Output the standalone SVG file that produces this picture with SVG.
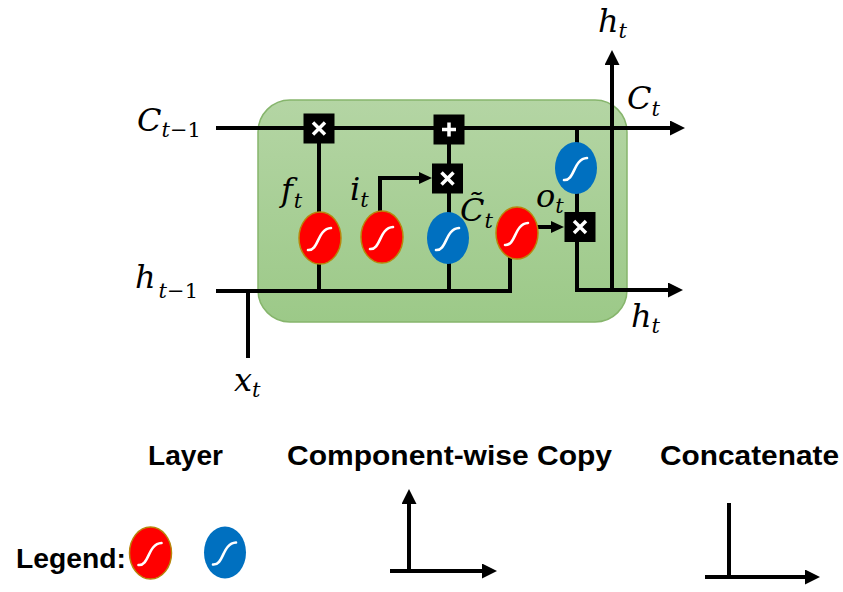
<svg xmlns="http://www.w3.org/2000/svg" xmlns:xlink="http://www.w3.org/1999/xlink" width="843" height="592" viewBox="0 0 843 592">
<style>
.ln{fill:none;stroke:#000;stroke-width:4;stroke-linejoin:miter}
.box{fill:#000}
.op{stroke:#fff;stroke-width:3.5;stroke-linecap:butt}
.m{font-family:"DejaVu Serif","Liberation Serif",serif;font-style:italic;font-size:32px;fill:#000}
.s{font-size:21px}
.u{font-style:normal}
.lg{font-family:"Liberation Sans",Arial,sans-serif;font-weight:bold;font-size:27px;fill:#000}
</style>
<defs>
<linearGradient id="gr" x1="0" y1="0" x2="0" y2="1">
<stop offset="0" stop-color="#b4d5a4"/>
<stop offset="1" stop-color="#9cc988"/>
</linearGradient>
<marker id="ah" viewBox="0 0 15 15" markerWidth="15" markerHeight="15" markerUnits="userSpaceOnUse" refX="1" refY="7.5" orient="auto">
<path d="M0,0 L15,7.5 L0,15 Z" fill="#000"/>
</marker>
<marker id="as" viewBox="0 0 13 12" markerWidth="13" markerHeight="12" markerUnits="userSpaceOnUse" refX="1" refY="6" orient="auto">
<path d="M0,0 L13,6 L0,12 Z" fill="#000"/>
</marker>
<g id="sigR">
<ellipse cx="0" cy="0" rx="21" ry="26" fill="#ff0000" stroke="#b8860b" stroke-width="1.5"/>
<path d="M-12,12 C-1,13 -3,-9 11,-10" fill="none" stroke="#fff" stroke-width="2.6" stroke-linecap="round"/>
</g>
<g id="sigB">
<ellipse cx="0" cy="0" rx="21" ry="26" fill="#0070c0"/>
<path d="M-12,12 C-1,13 -3,-9 11,-10" fill="none" stroke="#fff" stroke-width="2.6" stroke-linecap="round"/>
</g>
<g id="mul">
<rect x="-15.5" y="-15" width="31" height="30" class="box"/>
<path d="M-6,-6 L6,6 M6,-6 L-6,6" class="op"/>
</g>
<g id="add">
<rect x="-15.5" y="-15" width="31" height="30" class="box"/>
<path d="M-7,0 H7 M0,-7 V7" class="op" stroke-width="3"/>
</g>
</defs>

<g id="cell">
<rect x="258" y="100" width="369" height="222" rx="32" ry="32" fill="url(#gr)" stroke="#86b56c" stroke-width="1.5"/>
</g>

<g id="connectors">
<line x1="216" y1="128" x2="671" y2="128" class="ln" marker-end="url(#ah)"/>
<path d="M216,291 H510 V255" class="ln"/>
<line x1="248" y1="291" x2="248" y2="358" class="ln"/>
<line x1="319" y1="140" x2="319" y2="291" class="ln"/>
<line x1="449" y1="140" x2="449" y2="291" class="ln"/>
<path d="M380,215 V178 H420" class="ln" marker-end="url(#as)"/>
<line x1="535" y1="227" x2="552" y2="227" class="ln" marker-end="url(#as)"/>
<path d="M577,128 V290 H669" class="ln" marker-end="url(#ah)"/>
<line x1="612" y1="292" x2="612" y2="64" class="ln" marker-end="url(#ah)"/>
</g>

<g id="mult_forget"><use href="#mul" x="319" y="128.5"/></g>
<g id="add_cell"><use href="#add" x="449" y="129.5"/></g>
<g id="mult_input"><use href="#mul" x="447.5" y="178.5"/></g>
<g id="mult_output"><use href="#mul" x="580" y="227"/></g>

<g id="sigma_f"><use href="#sigR" x="320" y="238"/></g>
<g id="sigma_i"><use href="#sigR" x="382" y="237"/></g>
<g id="tanh_c"><use href="#sigB" x="448" y="238"/></g>
<g id="sigma_o"><use href="#sigR" x="517" y="233"/></g>
<g id="tanh_h"><use href="#sigB" x="576" y="168"/></g>

<g id="labels">
<text class="m" x="137" y="131">C<tspan class="s" dy="6">t<tspan class="u">−1</tspan></tspan></text>
<text class="m" x="135" y="288">h<tspan class="s" dx="3" dy="10">t<tspan class="u">−1</tspan></tspan></text>
<text class="m" x="234" y="391">x<tspan class="s" dy="6">t</tspan></text>
<text class="m" x="281" y="201">f<tspan class="s" dx="1" dy="7">t</tspan></text>
<text class="m" x="350" y="200">i<tspan class="s" dy="7">t</tspan></text>
<text class="m" x="460" y="221">C̃<tspan class="s" dy="7">t</tspan></text>
<text class="m" x="536" y="207">o<tspan class="s" dy="6">t</tspan></text>
<text class="m" x="598" y="32">h<tspan class="s" dy="6">t</tspan></text>
<text class="m" x="627" y="109">C<tspan class="s" dy="7">t</tspan></text>
<text class="m" x="631" y="327">h<tspan class="s" dy="6">t</tspan></text>
</g>

<g id="legend">
<text class="lg" x="148" y="465" textLength="75" lengthAdjust="spacingAndGlyphs">Layer</text>
<text class="lg" x="287" y="465" textLength="325" lengthAdjust="spacingAndGlyphs">Component-wise Copy</text>
<text class="lg" x="660" y="465" textLength="179" lengthAdjust="spacingAndGlyphs">Concatenate</text>
<text class="lg" x="16" y="568" textLength="110" lengthAdjust="spacingAndGlyphs">Legend:</text>
<g id="legend_red"><use href="#sigR" x="150.5" y="553"/></g>
<g id="legend_blue"><use href="#sigB" x="225" y="552.5"/></g>
<g id="legend_copy">
<line x1="409" y1="572" x2="409" y2="503" class="ln" marker-end="url(#ah)"/>
<line x1="390" y1="571" x2="483" y2="571" class="ln" marker-end="url(#ah)"/>
</g>
<g id="legend_concat">
<line x1="729" y1="503" x2="729" y2="577" class="ln"/>
<line x1="705" y1="577" x2="806" y2="577" class="ln" marker-end="url(#ah)"/>
</g>
</g>
</svg>
